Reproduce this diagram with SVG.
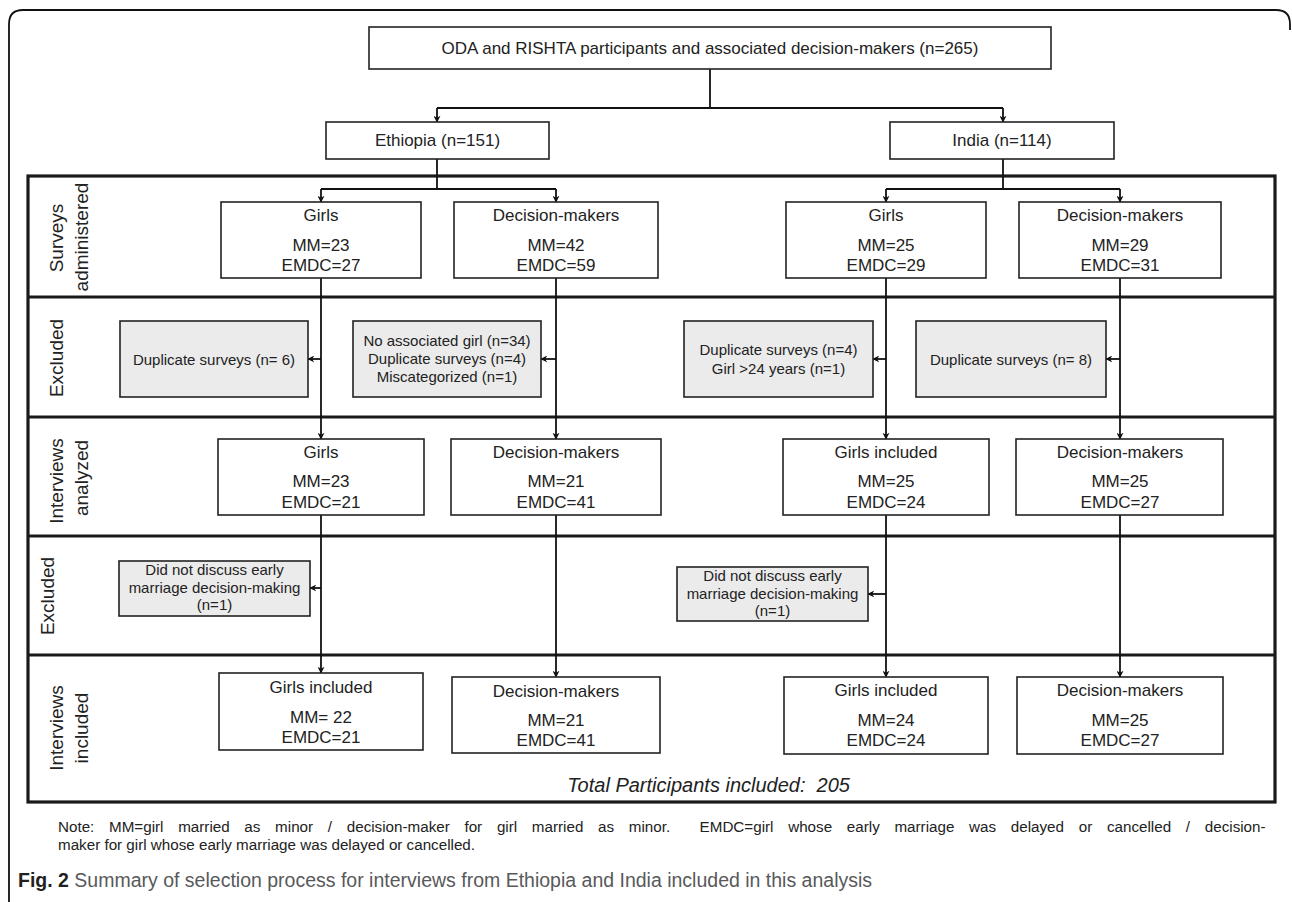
<svg xmlns="http://www.w3.org/2000/svg" width="1292" height="902" viewBox="0 0 1292 902">
<defs>
<marker id="ah" viewBox="0 0 10 10" refX="9" refY="5" markerWidth="7" markerHeight="7" orient="auto" markerUnits="userSpaceOnUse">
<path d="M0,0 L10,5 L0,10 L3,5 z" fill="#111"/>
</marker>
<style>
.bx{fill:#fff;stroke:#222;stroke-width:1.6}
.gx{fill:#ebebeb;stroke:#222;stroke-width:1.6}
.t{font-family:"Liberation Sans",Arial,sans-serif;font-size:17px;fill:#222;text-anchor:middle}
.s{font-family:"Liberation Sans",Arial,sans-serif;font-size:15px;fill:#222;text-anchor:middle}
.lab{font-family:"Liberation Sans",Arial,sans-serif;font-size:19px;fill:#222;text-anchor:middle}
.c{fill:none;stroke:#111;stroke-width:1.8}
.a{fill:none;stroke:#111;stroke-width:1.8;marker-end:url(#ah)}
.thick{fill:none;stroke:#1a1a1a;stroke-width:3.2}
.note{font-family:"Liberation Sans",Arial,sans-serif;font-size:15.2px;fill:#222}
</style>
</defs>
<rect width="1292" height="902" fill="#fff"/>
<path class="c" d="M9,902 V24 Q9,10 23,10 H1276 Q1290,10 1290,24 V30" stroke-width="1.6"/>

<g id="frame">
<rect class="thick" x="28" y="176" width="1247" height="626"/>
<line class="thick" x1="28" y1="297" x2="1275" y2="297"/>
<line class="thick" x1="28" y1="417" x2="1275" y2="417"/>
<line class="thick" x1="28" y1="536" x2="1275" y2="536"/>
<line class="thick" x1="28" y1="655" x2="1275" y2="655"/>
</g>

<g id="row-labels">
<text class="lab" transform="translate(63,238) rotate(-90)">Surveys</text>
<text class="lab" transform="translate(88,237) rotate(-90)">administered</text>
<text class="lab" transform="translate(63,358) rotate(-90)">Excluded</text>
<text class="lab" transform="translate(63,481) rotate(-90)">Interviews</text>
<text class="lab" transform="translate(88,478) rotate(-90)">analyzed</text>
<text class="lab" transform="translate(54,596) rotate(-90)">Excluded</text>
<text class="lab" transform="translate(63,728) rotate(-90)">Interviews</text>
<text class="lab" transform="translate(88,728) rotate(-90)">included</text>
</g>

<g id="connectors">
<path class="c" d="M710,69 V108 M437,108 H1003"/>
<path class="a" d="M437,108 V122"/>
<path class="a" d="M1003,108 V122"/>
<path class="c" d="M437,159 V189 M321,189 H556"/>
<path class="a" d="M321,189 V202"/>
<path class="a" d="M556,189 V202"/>
<path class="c" d="M1003,159 V189 M886,189 H1120"/>
<path class="a" d="M886,189 V202"/>
<path class="a" d="M1120,189 V202"/>
<path class="a" d="M321,278 V439"/>
<path class="a" d="M556,278 V439"/>
<path class="a" d="M886,278 V439"/>
<path class="a" d="M1120,278 V439"/>
<path class="a" d="M321,359 H308"/>
<path class="a" d="M556,359 H541"/>
<path class="a" d="M886,359 H873"/>
<path class="a" d="M1120,359 H1106"/>
<path class="a" d="M321,515 V673"/>
<path class="a" d="M556,515 V677"/>
<path class="a" d="M886,515 V677"/>
<path class="a" d="M1120,515 V677"/>
<path class="a" d="M321,588 H310"/>
<path class="a" d="M886,594 H868"/>
</g>

<g id="n-top"><rect class="bx" x="369" y="27" width="682" height="42"/><text class="t" x="710" y="54">ODA and RISHTA participants and associated decision-makers (n=265)</text></g>
<g id="n-eth"><rect class="bx" x="326" y="122" width="223" height="37"/><text class="t" x="437.5" y="146">Ethiopia (n=151)</text></g>
<g id="n-ind"><rect class="bx" x="890" y="122" width="224" height="37"/><text class="t" x="1002" y="146">India (n=114)</text></g>

<g id="n-eg1"><rect class="bx" x="221" y="202" width="200" height="76"/><text class="t" x="321" y="221">Girls</text><text class="t" x="321" y="251">MM=23</text><text class="t" x="321" y="271">EMDC=27</text></g>
<g id="n-ed1"><rect class="bx" x="454" y="202" width="204" height="76"/><text class="t" x="556" y="221">Decision-makers</text><text class="t" x="556" y="251">MM=42</text><text class="t" x="556" y="271">EMDC=59</text></g>
<g id="n-ig1"><rect class="bx" x="786" y="202" width="200" height="76"/><text class="t" x="886" y="221">Girls</text><text class="t" x="886" y="251">MM=25</text><text class="t" x="886" y="271">EMDC=29</text></g>
<g id="n-id1"><rect class="bx" x="1019" y="202" width="202" height="76"/><text class="t" x="1120" y="221">Decision-makers</text><text class="t" x="1120" y="251">MM=29</text><text class="t" x="1120" y="271">EMDC=31</text></g>

<g id="x-eg1"><rect class="gx" x="120" y="321" width="188" height="76"/><text class="s" x="214" y="365">Duplicate surveys (n= 6)</text></g>
<g id="x-ed1"><rect class="gx" x="353" y="321" width="188" height="76"/><text class="s" x="447" y="346">No associated girl (n=34)</text><text class="s" x="447" y="364">Duplicate surveys (n=4)</text><text class="s" x="447" y="382">Miscategorized (n=1)</text></g>
<g id="x-ig1"><rect class="gx" x="684" y="321" width="189" height="76"/><text class="s" x="778.5" y="355">Duplicate surveys (n=4)</text><text class="s" x="778.5" y="374">Girl &gt;24 years (n=1)</text></g>
<g id="x-id1"><rect class="gx" x="916" y="321" width="190" height="76"/><text class="s" x="1011" y="365">Duplicate surveys (n= 8)</text></g>

<g id="n-eg2"><rect class="bx" x="218" y="439" width="206" height="76"/><text class="t" x="321" y="458">Girls</text><text class="t" x="321" y="487">MM=23</text><text class="t" x="321" y="508">EMDC=21</text></g>
<g id="n-ed2"><rect class="bx" x="451" y="439" width="210" height="76"/><text class="t" x="556" y="458">Decision-makers</text><text class="t" x="556" y="487">MM=21</text><text class="t" x="556" y="508">EMDC=41</text></g>
<g id="n-ig2"><rect class="bx" x="783" y="439" width="206" height="76"/><text class="t" x="886" y="458">Girls included</text><text class="t" x="886" y="487">MM=25</text><text class="t" x="886" y="508">EMDC=24</text></g>
<g id="n-id2"><rect class="bx" x="1016" y="439" width="207" height="76"/><text class="t" x="1120" y="458">Decision-makers</text><text class="t" x="1120" y="487">MM=25</text><text class="t" x="1120" y="508">EMDC=27</text></g>

<g id="x-eg2"><rect class="gx" x="119" y="561" width="191" height="55"/><text class="s" x="214.5" y="575">Did not discuss early</text><text class="s" x="214.5" y="593">marriage decision-making</text><text class="s" x="214.5" y="610">(n=1)</text></g>
<g id="x-ig2"><rect class="gx" x="677" y="567" width="191" height="54"/><text class="s" x="772.5" y="581">Did not discuss early</text><text class="s" x="772.5" y="599">marriage decision-making</text><text class="s" x="772.5" y="616">(n=1)</text></g>

<g id="n-eg3"><rect class="bx" x="219" y="673" width="204" height="77"/><text class="t" x="321" y="693">Girls included</text><text class="t" x="321" y="723">MM= 22</text><text class="t" x="321" y="743">EMDC=21</text></g>
<g id="n-ed3"><rect class="bx" x="452" y="677" width="208" height="76"/><text class="t" x="556" y="697">Decision-makers</text><text class="t" x="556" y="726">MM=21</text><text class="t" x="556" y="746">EMDC=41</text></g>
<g id="n-ig3"><rect class="bx" x="784" y="677" width="204" height="77"/><text class="t" x="886" y="696">Girls included</text><text class="t" x="886" y="726">MM=24</text><text class="t" x="886" y="746">EMDC=24</text></g>
<g id="n-id3"><rect class="bx" x="1017" y="677" width="206" height="77"/><text class="t" x="1120" y="696">Decision-makers</text><text class="t" x="1120" y="726">MM=25</text><text class="t" x="1120" y="746">EMDC=27</text></g>

<text class="t" x="850" y="792" style="text-anchor:end;font-style:italic;font-size:20px" xml:space="preserve">Total Participants included:  205</text>

<text class="note" x="58" y="832" style="word-spacing:10.5px" xml:space="preserve">Note: MM=girl married as minor / decision-maker for girl married as minor.  EMDC=girl whose early marriage was delayed or cancelled / decision-</text>
<text class="note" x="58" y="850">maker for girl whose early marriage was delayed or cancelled.</text>
<text x="18" y="887" style="font-family:'Liberation Sans',Arial,sans-serif;font-size:19.5px;fill:#58595b"><tspan style="font-weight:bold;fill:#231f20">Fig. 2</tspan> Summary of selection process for interviews from Ethiopia and India included in this analysis</text>
</svg>
